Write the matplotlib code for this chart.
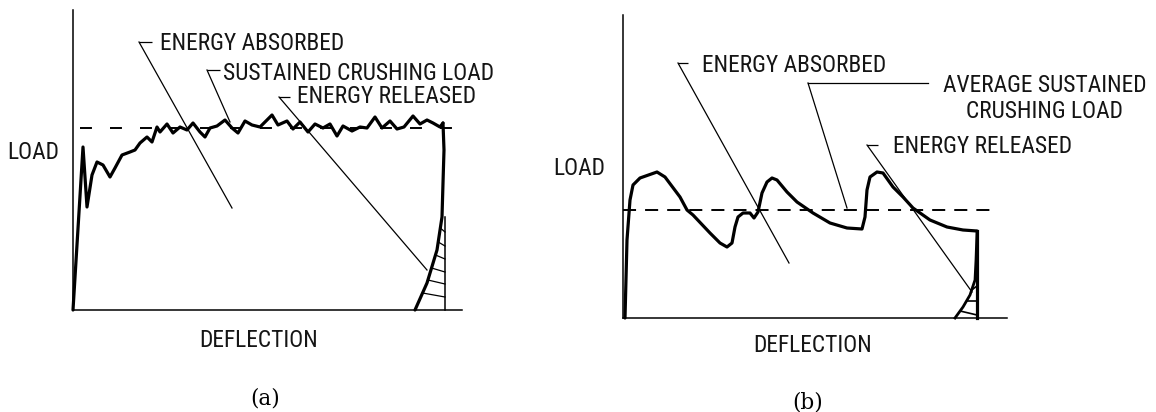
import numpy as np
import matplotlib
matplotlib.use("Agg")
import matplotlib.pyplot as plt
from matplotlib import font_manager as fm

# ---------------- data (schematic load–deflection curves) ----------------
# Panel (a): progressive crushing with small oscillations
defl_a = [0, 10, 14, 19, 24, 30, 37, 42, 49, 57, 62, 67, 74, 79, 84, 87, 94, 100, 107,
          114, 120, 127, 132, 137, 144, 152, 159, 165, 172, 179, 187, 194, 199, 205,
          214, 220, 227, 235, 242, 250, 257, 264, 270, 279, 287, 294, 302, 309, 317,
          324, 331, 340, 347, 354, 360, 367, 370]
load_a = [0, 163, 103, 135, 148, 145, 133, 142, 155, 158, 160, 167, 173, 168, 183, 178,
          186, 177, 183, 180, 187, 178, 173, 182, 184, 190, 182, 177, 189, 185, 183,
          190, 195, 185, 189, 181, 188, 178, 186, 182, 186, 174, 184, 179, 183, 182,
          193, 182, 189, 181, 183, 194, 186, 190, 187, 183, 187]
unload_defl_a = [370, 371, 370, 369, 364, 354, 342]
unload_load_a = [187, 160, 127, 93, 60, 27, 0]
release_line_a = 372          # elastic-release boundary
avg_load_a = 182               # sustained crushing load
hatch_levels_a = [82, 68, 55, 42, 30, 17]

# Panel (b): large folding oscillations
defl_b = [2, 4, 7, 10, 17, 34, 42, 57, 64, 70, 87, 97, 104, 109, 112, 115, 120, 127,
          131, 135, 139, 144, 149, 154, 164, 174, 190, 207, 224, 239, 242, 244, 247,
          254, 260, 270, 280, 290, 307, 324, 340, 354]
load_b = [0, 78, 118, 133, 140, 146, 141, 121, 108, 103, 85, 75, 71, 75, 91, 101, 105,
          105, 100, 106, 125, 136, 140, 138, 126, 116, 105, 95, 90, 89, 101, 128, 141,
          146, 145, 131, 121, 110, 98, 91, 88, 87]
unload_defl_b = [354, 353, 352, 347, 340, 332]
unload_load_b = [86, 58, 38, 23, 11, 0]
release_line_b = 354
avg_load_b = 108
hatch_levels_b = [28, 17, 7]

# ---------------- fonts ----------------
entries = fm.fontManager.ttflist
names = {f.name for f in entries}
STRETCH = "normal"
if "Liberation Sans Narrow" in names:
    COND, FS = "Liberation Sans Narrow", 16.4
elif "Roboto Condensed" in names:
    COND, FS = "Roboto Condensed", 16.8
elif any(f.name == "DejaVu Sans" and "ondensed" in f.fname for f in entries):
    COND, FS, STRETCH = "DejaVu Sans", 15.5, "condensed"
elif "Roboto" in names:
    COND, FS = "Roboto", 15.4
else:
    COND, FS = "DejaVu Sans", 13.8
SERIF = "DejaVu Serif"

plt.rcParams["lines.scale_dashes"] = False

W, H = 1156, 412
fig = plt.figure(figsize=(W / 100, H / 100), dpi=100)
fig.patch.set_facecolor("white")

CURVE_LW = 2.3
AX_LW = 1.1
LEAD_LW = 0.9
TXT = "#151515"


def make_axes(left, bottom_px, width, height):
    ax = fig.add_axes([left / W, bottom_px / H, width / W, height / H])
    ax.set_xlim(0, width)
    ax.set_ylim(0, height)
    for s in ("top", "right"):
        ax.spines[s].set_visible(False)
    for s in ("left", "bottom"):
        ax.spines[s].set_linewidth(AX_LW)
        ax.spines[s].set_color("black")
    ax.set_xticks([])
    ax.set_yticks([])
    ax.patch.set_alpha(0)
    return ax


def label(ax, x, y, s, ha="left", va="baseline"):
    ax.text(x, y, s, ha=ha, va=va, fontsize=FS, family=COND, fontstretch=STRETCH,
            color=TXT, clip_on=False)


def leader(ax, text_x, text_y, tip, dash=13, gap=8):
    # short horizontal tick before the label, then a thin line to the tip
    x0 = text_x - gap - dash
    ax.plot([x0, x0 + dash], [text_y, text_y], color="black", lw=LEAD_LW,
            clip_on=False, solid_capstyle="butt")
    ax.plot([x0, tip[0]], [text_y, tip[1]], color="black", lw=LEAD_LW,
            clip_on=False)


# ================= panel (a) =================
axa = make_axes(73, H - 310, 389, 300)
axa.plot(defl_a, load_a, color="black", lw=CURVE_LW, solid_joinstyle="round",
         solid_capstyle="round", clip_on=False)
axa.plot(unload_defl_a, unload_load_a, color="black", lw=CURVE_LW,
         solid_capstyle="round", clip_on=False)
axa.plot([release_line_a, release_line_a], [0, hatch_levels_a[0] + 11],
         color="black", lw=LEAD_LW + 0.2, clip_on=False)
ua_y = np.array(unload_load_a[::-1], dtype=float)
ua_x = np.array(unload_defl_a[::-1], dtype=float)
for lv in hatch_levels_a:
    xl = np.interp(lv, ua_y, ua_x)
    axa.plot([xl, release_line_a], [lv, lv - 4], color="black", lw=LEAD_LW,
             clip_on=False)
axa.plot([7, 393], [avg_load_a, avg_load_a], color="black", lw=1.4,
         linestyle=(0, (8.6, 13.0)), clip_on=False)

label(axa, 87, 260, "ENERGY ABSORBED")
leader(axa, 87, 268, (159, 102), dash=13, gap=8)
label(axa, 150, 230, "SUSTAINED CRUSHING LOAD")
leader(axa, 150, 240, (157, 188), dash=13, gap=3)
label(axa, 224, 207, "ENERGY RELEASED")
leader(axa, 224, 213, (354, 40), dash=11, gap=7)

label(axa, -40, 151, "LOAD", ha="center")
label(axa, 186, -37, "DEFLECTION", ha="center")
axa.text(192, -88, "(a)", ha="center", va="center", fontsize=15.5, family=SERIF,
         clip_on=False)

# ================= panel (b) =================
axb = make_axes(623, H - 318, 384, 303)
axb.plot(defl_b, load_b, color="black", lw=CURVE_LW, solid_joinstyle="round",
         solid_capstyle="round", clip_on=False)
axb.plot([release_line_b, release_line_b], [0, load_b[-1]], color="black",
         lw=CURVE_LW, clip_on=False)
axb.plot(unload_defl_b, unload_load_b, color="black", lw=CURVE_LW - 0.3,
         clip_on=False)
ub_y = np.array(unload_load_b[::-1], dtype=float)
ub_x = np.array(unload_defl_b[::-1], dtype=float)
for i, lv in enumerate(hatch_levels_b):
    xl = np.interp(lv, ub_y, ub_x)
    axb.plot([xl, release_line_b], [lv, lv + (4 - 4 * i)], color="black",
             lw=LEAD_LW + 0.3, clip_on=False)
axb.plot([0, 369], [avg_load_b, avg_load_b], color="black", lw=1.4,
         linestyle=(0, (9.4, 6.5)), clip_on=False)

label(axb, 79, 246, "ENERGY ABSORBED")
leader(axb, 79, 255, (166, 55), dash=10, gap=14)
label(axb, 422, 226, "AVERAGE SUSTAINED", ha="center")
label(axb, 422, 200, "CRUSHING LOAD", ha="center")
axb.plot([185, 305], [235, 235], color="black", lw=LEAD_LW, clip_on=False)
axb.plot([185, 224], [235, 110], color="black", lw=LEAD_LW, clip_on=False)
label(axb, 270, 165, "ENERGY RELEASED")
leader(axb, 270, 173, (349, 26), dash=11, gap=15)

label(axb, -18, 143, "LOAD", ha="right")
label(axb, 190, -34, "DEFLECTION", ha="center")
axb.text(185, -84, "(b)", ha="center", va="center", fontsize=15.5, family=SERIF,
         clip_on=False)

fig.savefig("out.png", dpi=100, facecolor="white")
